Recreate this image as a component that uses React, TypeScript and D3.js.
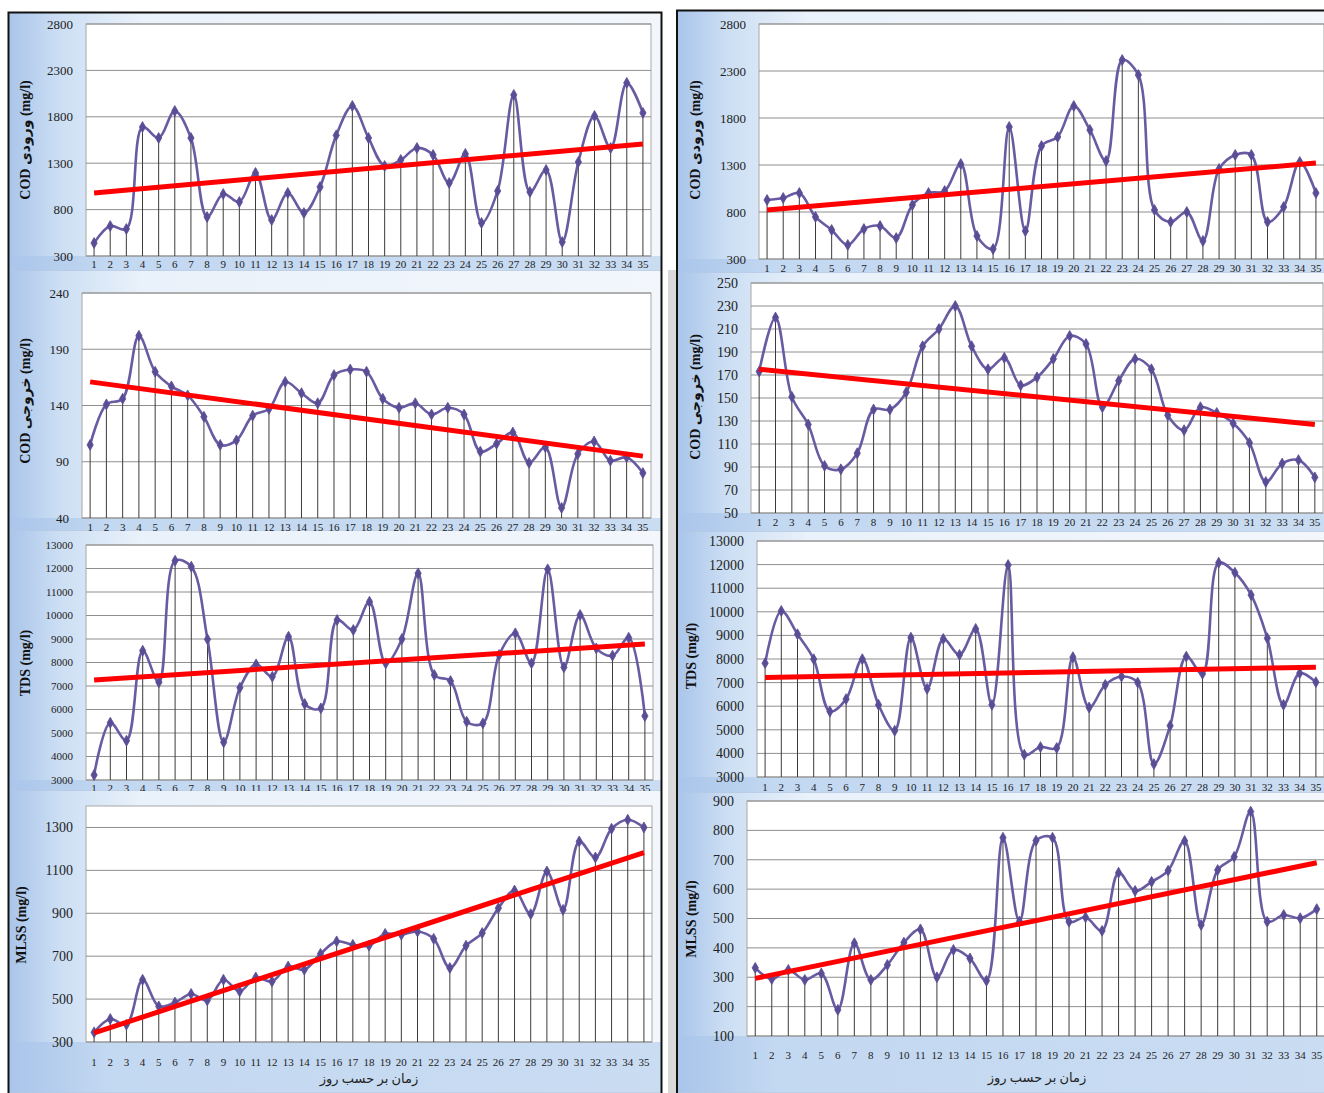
import React from 'react';
import * as d3 from 'd3';

// ---------- DATA ----------
const days = [
  '1','2','3','4','5','6','7','8','9','10','11','12','13','14','15','16','17','18',
  '19','20','21','22','23','24','25','26','27','28','29','30','31','32','33','34','35',
];

const codInLeft = [440, 623, 591, 1690, 1572, 1863, 1572, 720, 968, 882, 1195, 688, 979, 763, 1044, 1600, 1917, 1572, 1270, 1335, 1464, 1389, 1087, 1400, 656, 1001, 2036, 990, 1227, 451, 1313, 1809, 1464, 2165, 1842];
const codInLeftTrend = [980, 1507];

const codInRight = [928, 949, 1002, 747, 609, 449, 619, 651, 523, 875, 1002, 1023, 1311, 545, 406, 1705, 598, 1502, 1598, 1928, 1673, 1343, 2417, 2258, 821, 694, 800, 492, 1258, 1407, 1407, 694, 853, 1332, 1002];
const codInRightTrend = [821, 1321];

const codOutLeft = [105, 141, 146, 202, 170, 157, 149, 130, 105, 109, 131, 137, 161, 151, 142, 167, 172, 170, 146, 138, 142, 132, 138, 132, 99, 106, 116, 89, 103, 49, 97, 108, 91, 94, 80];
const codOutLeftTrend = [161, 95];

const codOutRight = [173, 220, 151, 127, 91, 88, 102, 140, 140, 155, 195, 210, 230, 195, 175, 185, 161, 168, 184, 204, 197, 142, 165, 184, 175, 135, 122, 142, 137, 128, 111, 77, 93, 96, 81];
const codOutRightTrend = [175, 127];

const tdsLeft = [3213, 5438, 4672, 8502, 7157, 12332, 12077, 8985, 4604, 6928, 7922, 7396, 9098, 6234, 6051, 9808, 9383, 10587, 7965, 8999, 11795, 7468, 7212, 5481, 5412, 8319, 9242, 7965, 11965, 7795, 10021, 8600, 8290, 9055, 5723];
const tdsLeftTrend = [7255, 8790];

const tdsRight = [7823, 10036, 9050, 7993, 5776, 6300, 7993, 6059, 4959, 8906, 6736, 8851, 8174, 9274, 6059, 11982, 3943, 4269, 4227, 8077, 5945, 6905, 7256, 7002, 3550, 5170, 8103, 7371, 12080, 11657, 10713, 8881, 6059, 7400, 7019];
const tdsRightTrend = [7220, 7650];

const mlssLeft = [345, 407, 381, 590, 466, 484, 524, 494, 590, 536, 601, 582, 652, 637, 711, 769, 753, 749, 804, 800, 815, 781, 645, 749, 808, 924, 1006, 896, 1095, 916, 1235, 1160, 1294, 1336, 1300];
const mlssLeftTrend = [342, 1183];

const mlssRight = [332, 294, 325, 291, 313, 189, 416, 291, 342, 418, 463, 300, 393, 364, 288, 775, 490, 765, 775, 489, 504, 458, 656, 594, 625, 663, 764, 478, 665, 710, 864, 489, 512, 501, 532];
const mlssRightTrend = [296, 690];

const codInTicks = [300, 800, 1300, 1800, 2300, 2800];
const codOutLeftTicks = [40, 90, 140, 190, 240];
const codOutRightTicks = [50, 70, 90, 110, 130, 150, 170, 190, 210, 230, 250];
const tdsTicks = [3000, 4000, 5000, 6000, 7000, 8000, 9000, 10000, 11000, 12000, 13000];
const mlssLeftTicks = [300, 500, 700, 900, 1100, 1300];
const mlssRightTicks = [100, 200, 300, 400, 500, 600, 700, 800, 900];

const titleCodIn = 'COD ورودی (mg/l)';
const titleCodOut = 'COD خروجی (mg/l)';
const titleTds = 'TDS (mg/l)';
const titleMlss = 'MLSS (mg/l)';
const xAxisTitle = 'زمان بر حسب روز';

// ---------- STYLE ----------
const FONT = "'Liberation Serif', 'Times New Roman', 'DejaVu Serif', serif";
const TITLE_FONT = "'Liberation Serif', 'DejaVu Serif', 'DejaVu Sans', serif";
const LINE = '#6a5aa2';
const MARK = '#5b4d95';

type PanelProps = {
  values: number[];
  trend: number[];
  ticks: number[];
  domain: [number, number];
  box: { x0: number; x1: number; y0: number; y1: number };
  plot: { l: number; r: number; t: number; b: number };
  yFont: number;
  xFont: number;
  xLabelDy: number;
  title: string;
  titleX: number;
  titleY: number;
  xTitle?: { x: number; y: number };
};

function Panel(p: PanelProps) {
  const x = d3.scaleBand<string>().domain(days).range([p.plot.l, p.plot.r]);
  const y = d3.scaleLinear().domain(p.domain).range([p.plot.b, p.plot.t]);
  const cx = (d: string) => (x(d) as number) + x.bandwidth() / 2;
  const pts: [number, number][] = p.values.map((v, i) => [cx(days[i]), y(v)]);
  const line = d3.line().curve(d3.curveCatmullRom.alpha(0.5));
  const diamond = d3.symbol(d3.symbolDiamond, 34)() as string;
  const first = days[0];
  const last = days[days.length - 1];
  return (
    <g>
      <rect x={p.box.x0} y={p.box.y0} width={p.box.x1 - p.box.x0} height={p.box.y1 - p.box.y0} fill="url(#panelBg)" />
      <rect x={p.box.x0} y={p.plot.b} width={p.box.x1 - p.box.x0} height={p.box.y1 - p.plot.b} fill="url(#stripBg)" />
      <line x1={p.box.x0} x2={p.box.x1} y1={p.box.y1} y2={p.box.y1} stroke="#b9c9dc" strokeWidth={1} />
      <rect x={p.plot.l} y={p.plot.t} width={p.plot.r - p.plot.l} height={p.plot.b - p.plot.t} fill="#ffffff" stroke="#a8a8a8" strokeWidth={1} />
      {p.ticks.map((t) => (
        <line key={'g' + t} x1={p.plot.l} x2={p.plot.r} y1={y(t)} y2={y(t)} stroke="#8e8e8e" strokeWidth={1} />
      ))}
      {p.values.map((v, i) => (
        <line key={'d' + i} x1={cx(days[i])} x2={cx(days[i])} y1={y(v)} y2={p.plot.b} stroke="#3c3c3c" strokeWidth={1} />
      ))}
      <path d={line(pts) as string} fill="none" stroke={LINE} strokeWidth={2.6} />
      {pts.map((pt, i) => (
        <path key={'m' + i} d={diamond} transform={`translate(${pt[0]},${pt[1]})`} fill={MARK} stroke={MARK} strokeWidth={0.8} />
      ))}
      <line x1={cx(first)} x2={cx(last)} y1={y(p.trend[0])} y2={y(p.trend[1])} stroke="#ff0000" strokeWidth={5} />
      {p.ticks.map((t) => (
        <text key={'t' + t} x={p.plot.l - 13} y={y(t)} dy="0.35em" textAnchor="end" fontFamily={FONT} fontSize={p.yFont} fill="#222">
          {t}
        </text>
      ))}
      {days.map((d) => (
        <text key={'x' + d} x={cx(d)} y={p.plot.b + p.xLabelDy} dy="0.35em" textAnchor="middle" fontFamily={FONT} fontSize={p.xFont} fill="#222">
          {d}
        </text>
      ))}
      <text
        transform={`translate(${p.titleX},${p.titleY}) rotate(-90)`}
        textAnchor="middle"
        dy="0.35em"
        fontFamily={TITLE_FONT}
        fontWeight="bold"
        fontSize={14}
        fill="#111"
      >
        {p.title}
      </text>
      {p.xTitle && (
        <text x={p.xTitle.x} y={p.xTitle.y} dy="0.35em" textAnchor="middle" fontFamily={TITLE_FONT} fontSize={13} fill="#222" direction="rtl">
          {xAxisTitle}
        </text>
      )}
    </g>
  );
}

export default function App() {
  const L = { x0: 9, x1: 661 };
  const R = { x0: 677, x1: 1324 };
  return (
    <svg width={1324} height={1093} style={{ position: 'absolute', left: 0, top: 0, background: '#fff' }}>
      <defs>
        <linearGradient id="panelBg" x1="0" x2="1" y1="0" y2="0">
          <stop offset="0" stopColor="#a9c5ea" />
          <stop offset="0.08" stopColor="#cddff4" />
          <stop offset="0.2" stopColor="#e9f1fa" />
          <stop offset="1" stopColor="#f3f7fc" />
        </linearGradient>
        <linearGradient id="stripBg" x1="0" x2="1" y1="0" y2="0">
          <stop offset="0" stopColor="#a9c5ea" />
          <stop offset="0.15" stopColor="#c3d8f1" />
          <stop offset="1" stopColor="#c9dcf2" />
        </linearGradient>
      </defs>
      <rect x={663} y={0} width={14} height={1093} fill="#ffffff" />
      <rect x={668} y={270} width={9} height={823} fill="#d9d9d9" />

      {/* left column */}
      <Panel values={codInLeft} trend={codInLeftTrend} ticks={codInTicks} domain={[300, 2800]}
        box={{ ...L, y0: 13, y1: 271 }} plot={{ l: 86, r: 651, t: 24, b: 256 }}
        yFont={13} xFont={11} xLabelDy={8} title={titleCodIn} titleX={25} titleY={140} />
      <Panel values={codOutLeft} trend={codOutLeftTrend} ticks={codOutLeftTicks} domain={[40, 240]}
        box={{ ...L, y0: 271, y1: 531 }} plot={{ l: 82, r: 651, t: 293, b: 518 }}
        yFont={13} xFont={11} xLabelDy={9} title={titleCodOut} titleX={25} titleY={401} />
      <Panel values={tdsLeft} trend={tdsLeftTrend} ticks={tdsTicks} domain={[3000, 13000]}
        box={{ ...L, y0: 531, y1: 791 }} plot={{ l: 86, r: 653, t: 545, b: 780 }}
        yFont={11} xFont={11} xLabelDy={8} title={titleTds} titleX={25} titleY={663} />
      <Panel values={mlssLeft} trend={mlssLeftTrend} ticks={mlssLeftTicks} domain={[300, 1400]}
        box={{ ...L, y0: 791, y1: 1093 }} plot={{ l: 86, r: 652, t: 806, b: 1042 }}
        yFont={14} xFont={11} xLabelDy={20} title={titleMlss} titleX={21} titleY={925}
        xTitle={{ x: 369, y: 1078 }} />

      {/* right column */}
      <Panel values={codInRight} trend={codInRightTrend} ticks={codInTicks} domain={[300, 2800]}
        box={{ ...R, y0: 11, y1: 273 }} plot={{ l: 759, r: 1324, t: 24, b: 259 }}
        yFont={13} xFont={11} xLabelDy={9} title={titleCodIn} titleX={695} titleY={140} />
      <Panel values={codOutRight} trend={codOutRightTrend} ticks={codOutRightTicks} domain={[50, 250]}
        box={{ ...R, y0: 273, y1: 532 }} plot={{ l: 751, r: 1323, t: 283, b: 513 }}
        yFont={14} xFont={11} xLabelDy={9} title={titleCodOut} titleX={695} titleY={397} />
      <Panel values={tdsRight} trend={tdsRightTrend} ticks={tdsTicks} domain={[3000, 13000]}
        box={{ ...R, y0: 532, y1: 793 }} plot={{ l: 757, r: 1324, t: 541, b: 777 }}
        yFont={14} xFont={11} xLabelDy={10} title={titleTds} titleX={691} titleY={656} />
      <Panel values={mlssRight} trend={mlssRightTrend} ticks={mlssRightTicks} domain={[100, 900]}
        box={{ ...R, y0: 793, y1: 1093 }} plot={{ l: 747, r: 1325, t: 801, b: 1036 }}
        yFont={14} xFont={11} xLabelDy={19} title={titleMlss} titleX={691} titleY={919}
        xTitle={{ x: 1037, y: 1077 }} />

      {/* outer black frames */}
      <rect x={8.5} y={12.5} width={653} height={1090} fill="none" stroke="#111" strokeWidth={2} />
      <rect x={677} y={10.5} width={660} height={1090} fill="none" stroke="#111" strokeWidth={2} />
    </svg>
  );
}
